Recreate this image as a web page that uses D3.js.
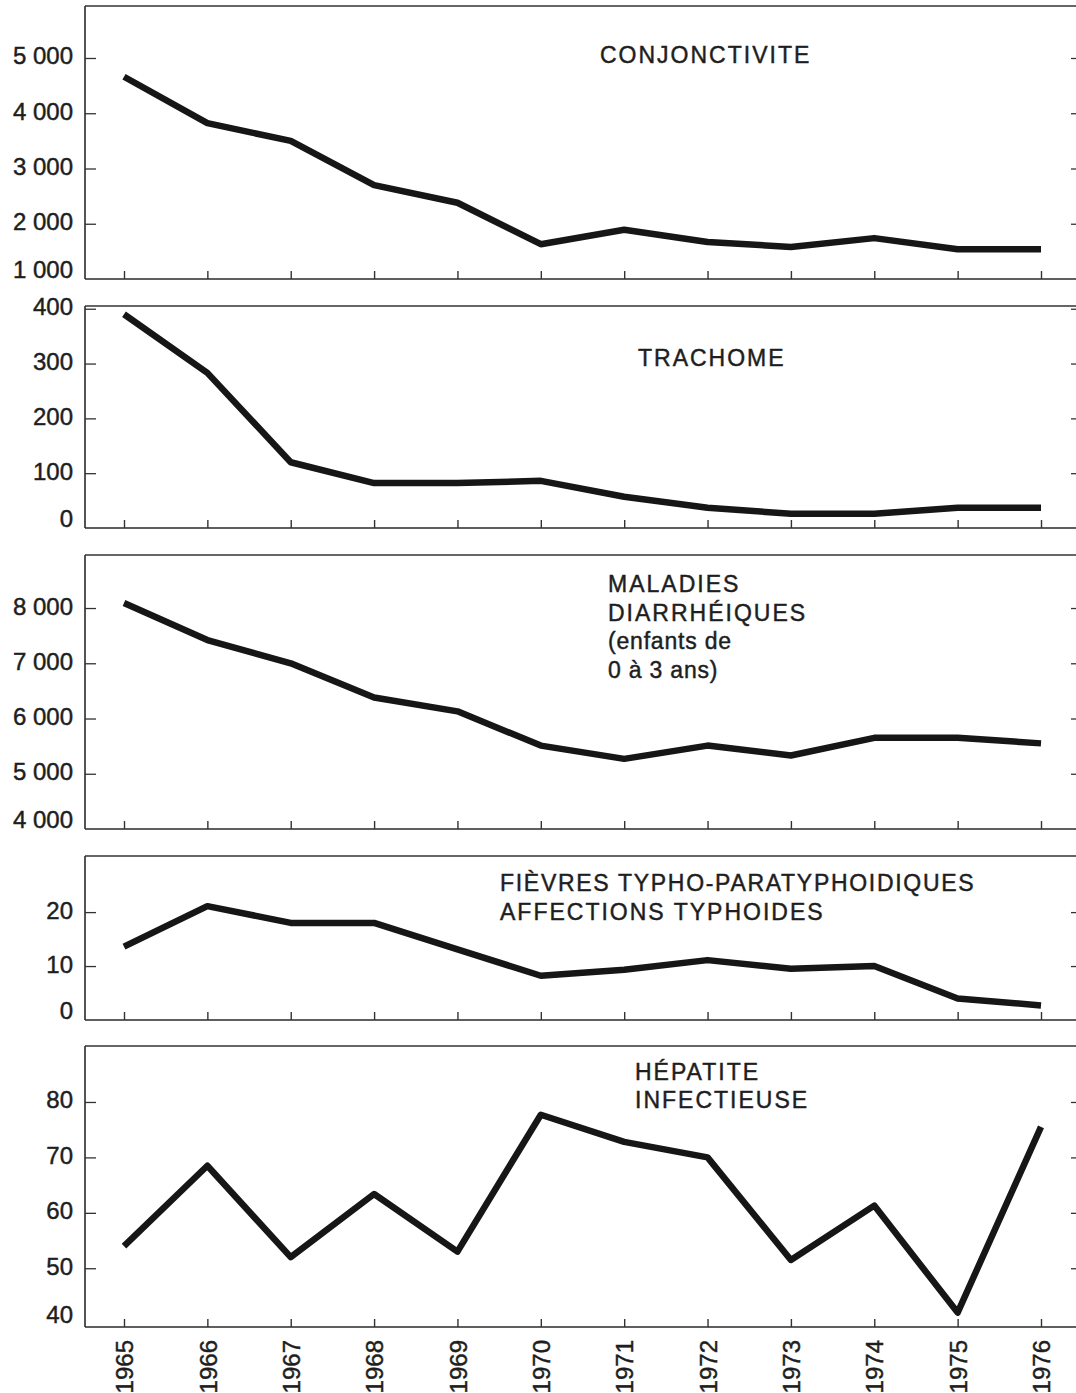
<!DOCTYPE html>
<html>
<head>
<meta charset="utf-8">
<script src="https://cdn.jsdelivr.net/npm/d3@7"></script>
<style>
  html, body { margin: 0; padding: 0; background: #fff; }
  svg { display: block; }
  text { font-family: "Liberation Sans", Arial, Helvetica, sans-serif; fill: #1e1e1e; stroke: #1e1e1e; stroke-width: 0.45px; }
</style>
</head>
<body>
<svg id="chart" width="1076" height="1393"></svg>
<script>
// ---- data ----
const years = [1965, 1966, 1967, 1968, 1969, 1970, 1971, 1972, 1973, 1974, 1975, 1976];

const conjonctivite = [4660, 3820, 3500, 2700, 2380, 1630, 1890, 1670, 1580, 1740, 1540, 1540];
const trachome      = [390, 283, 120, 82, 82, 86, 57, 37, 26, 26, 37, 37];
const diarrheiques  = [8090, 7420, 7000, 6380, 6130, 5510, 5270, 5510, 5330, 5650, 5650, 5550];
const typhoides     = [13.6, 21.1, 18, 18, 13.1, 8.2, 9.3, 11.1, 9.5, 10, 4, 2.7];
const hepatite      = [54, 68.5, 52, 63.4, 53, 77.7, 72.8, 70, 51.5, 61.3, 42, 75.5];

const ticksConj  = [1000, 2000, 3000, 4000, 5000];
const ticksTrach = [0, 100, 200, 300, 400];
const ticksDiarr = [4000, 5000, 6000, 7000, 8000];
const ticksTyph  = [0, 10, 20];
const ticksHep   = [40, 50, 60, 70, 80];

const titleConj  = ["CONJONCTIVITE"];
const titleTrach = ["TRACHOME"];
const titleDiarr = ["MALADIES", "DIARRHÉIQUES", "(enfants de", "0 à 3 ans)"];
const titleTyph  = ["FIÈVRES TYPHO-PARATYPHOIDIQUES", "AFFECTIONS TYPHOIDES"];
const titleHep   = ["HÉPATITE", "INFECTIEUSE"];

// ---- layout ----
const W = 1076;
const left = 85;
const fmt = v => v >= 1000 ? d3.format(",")(v).replace(",", " ") : String(v);

const panels = [
  { values: conjonctivite, ticks: ticksConj,  domain: [1000, 5941], top: 6,    bottom: 279,  title: titleConj,  tx: 600, ty: 63,  lh: 28 },
  { values: trachome,      ticks: ticksTrach, domain: [0, 405],     top: 306,  bottom: 528,  title: titleTrach, tx: 638, ty: 366, lh: 28 },
  { values: diarrheiques,  ticks: ticksDiarr, domain: [4000, 8960], top: 555,  bottom: 829,  title: titleDiarr, tx: 608, ty: 592, lh: 28.5 },
  { values: typhoides,     ticks: ticksTyph,  domain: [0, 30.4],    top: 856,  bottom: 1020, title: titleTyph,  tx: 500, ty: 891, lh: 29 },
  { values: hepatite,      ticks: ticksHep,   domain: [39.4, 90.1], top: 1046, bottom: 1327, title: titleHep,   tx: 635, ty: 1080, lh: 27.5 }
];

const svg = d3.select("#chart");
const x = d3.scaleLinear().domain([1965, 1976]).range([124, 1041]);
const FONT = '"Liberation Sans", Arial, Helvetica, sans-serif';

panels.forEach((p, i) => {
  const y = d3.scaleLinear().domain(p.domain).range([p.bottom, p.top]);
  const g = svg.append("g");

  // frame: left spine, top and bottom rules
  g.append("line").attr("x1", left).attr("x2", left).attr("y1", p.top).attr("y2", p.bottom)
    .attr("stroke", "#2a2a2a").attr("stroke-width", 1.6);
  g.append("line").attr("x1", left).attr("x2", W).attr("y1", p.top).attr("y2", p.top)
    .attr("stroke", "#333").attr("stroke-width", 1.4);
  g.append("line").attr("x1", left).attr("x2", W).attr("y1", p.bottom).attr("y2", p.bottom)
    .attr("stroke", "#2a2a2a").attr("stroke-width", 1.6);

  // left inner ticks
  const inner = p.ticks.slice(1);
  const lt = g.append("g").attr("transform", `translate(${left},0)`)
    .call(d3.axisRight(y).tickValues(inner).tickSize(11).tickFormat(""));
  lt.select(".domain").remove();
  lt.selectAll("line").attr("stroke", "#333").attr("stroke-width", 1.3);

  // right-edge ticks
  const rt = g.append("g").attr("transform", `translate(${W},0)`)
    .call(d3.axisLeft(y).tickValues(inner).tickSize(5).tickFormat(""));
  rt.select(".domain").remove();
  rt.selectAll("line").attr("stroke", "#333").attr("stroke-width", 1.3);

  // left labels
  const la = g.append("g").attr("transform", `translate(${left},0)`)
    .call(d3.axisLeft(y).tickValues(p.ticks).tickSize(0).tickPadding(12).tickFormat(fmt));
  la.select(".domain").remove();
  la.selectAll("text")
    .attr("font-size", 24)
    .attr("fill", "#1e1e1e")
    .attr("font-family", FONT)
    .attr("dy", d => d === p.ticks[0] ? "-0.05em" : "0.25em");

  // bottom ticks (inside)
  const bt = g.append("g").attr("transform", `translate(0,${p.bottom})`)
    .call(d3.axisTop(x).tickValues(years).tickSize(8).tickFormat(""));
  bt.select(".domain").remove();
  bt.selectAll("line").attr("stroke", "#333").attr("stroke-width", 1.4);

  // series line
  const line = d3.line().x((d, k) => x(years[k])).y(d => y(d));
  g.append("path").datum(p.values)
    .attr("d", line)
    .attr("fill", "none")
    .attr("stroke", "#161616")
    .attr("stroke-width", 6.5)
    .attr("stroke-linejoin", "round");

  // title
  const t = g.append("text").attr("x", p.tx).attr("y", p.ty).attr("font-size", 23);
  p.title.forEach((s, k) => {
    const lower = /[a-z]/.test(s);
    t.append("tspan").attr("x", p.tx).attr("y", p.ty + k * p.lh)
      .attr("letter-spacing", lower ? 0.8 : (s.length > 20 ? 1.7 : 2))
      .text(s);
  });

  // year labels on last panel
  if (i === panels.length - 1) {
    const xa = g.append("g").attr("transform", `translate(0,${p.bottom})`)
      .call(d3.axisBottom(x).tickValues(years).tickSize(0).tickFormat(d3.format("d")));
    xa.select(".domain").remove();
    xa.selectAll("text")
      .attr("font-size", 24)
      .attr("fill", "#1e1e1e")
      .attr("font-family", FONT)
      .attr("transform", "rotate(-90)")
      .attr("text-anchor", "end")
      .attr("x", -13)
      .attr("y", 0)
      .attr("dy", "0.36em");
  }
});
</script>
</body>
</html>
